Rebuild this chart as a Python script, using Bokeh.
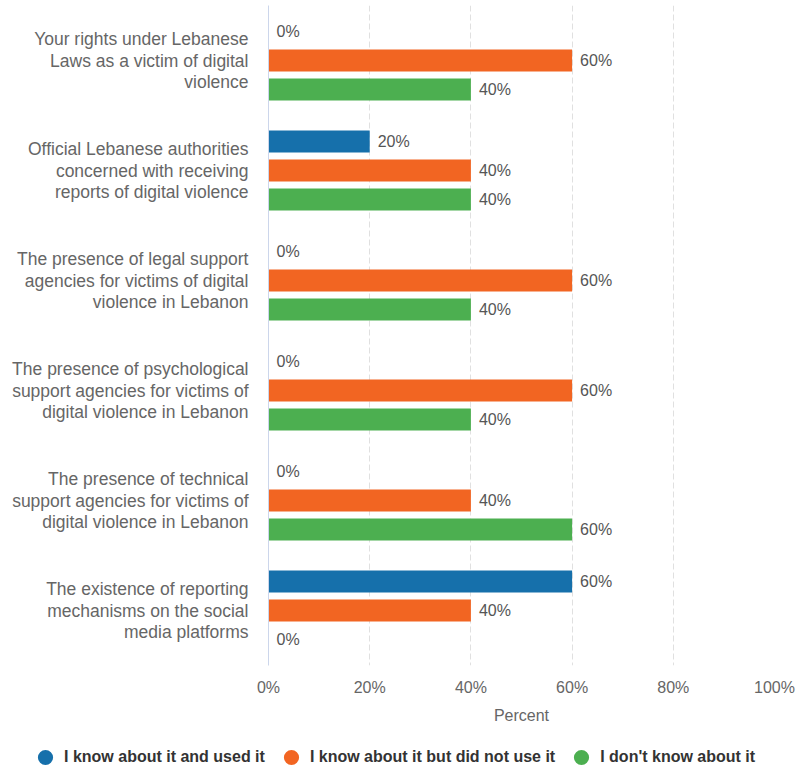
from bokeh.plotting import figure
from bokeh.models import (ColumnDataSource, Range1d, FixedTicker, PrintfTickFormatter,
                          Legend, LegendItem, Plot)
from bokeh.layouts import column
from bokeh.transform import dodge
from bokeh.core.properties import value
from bokeh.embed import file_html
from bokeh.resources import INLINE

categories = [
    "Your rights under Lebanese\nLaws as a victim of digital\nviolence",
    "Official Lebanese authorities\nconcerned with receiving\nreports of digital violence",
    "The presence of legal support\nagencies for victims of digital\nviolence in Lebanon",
    "The presence of psychological\nsupport agencies for victims of\ndigital violence in Lebanon",
    "The presence of technical\nsupport agencies for victims of\ndigital violence in Lebanon",
    "The existence of reporting\nmechanisms on the social\nmedia platforms",
]
series_names = ["I know about it and used it",
                "I know about it but did not use it",
                "I don't know about it"]
used = [0, 20, 0, 0, 0, 60]
not_used = [60, 40, 60, 60, 40, 40]
dont_know = [40, 40, 40, 40, 60, 0]
x_ticks = [0, 20, 40, 60, 80, 100]

colors = ["#1670ab", "#f26522", "#4caf50"]
FONT = "Liberation Sans"

use_strip = "frame_align" in Plot.properties()

W = 799
main_h = 745 if use_strip else 769
p = figure(width=W, height=main_h, output_backend="svg", toolbar_location=None,
           x_range=Range1d(0, 100), y_range=Range1d(5.5, -0.5),
           min_border_left=268, min_border_right=25, min_border_top=5,
           min_border_bottom=main_h - 665)
p.outline_line_color = None

idx = list(range(len(categories)))
offsets = [-0.2636, 0.0, 0.2636]
for vals, off, col in zip([used, not_used, dont_know], offsets, colors):
    src = ColumnDataSource(dict(idx=idx, v=vals, lab=[f"{v}%" for v in vals]))
    p.hbar(y=dodge("idx", off, range=p.y_range), left=0, right="v", height=0.2,
           source=src, fill_color=col, line_color=None)
    p.text(x="v", y=dodge("idx", off, range=p.y_range), text="lab", source=src,
           x_offset=8, text_align="left", text_baseline="middle",
           text_font_size="16px", text_color="#555555", text_font=value(FONT))

# x axis
xa = p.xaxis[0]
xa.ticker = FixedTicker(ticks=x_ticks)
xa.formatter = PrintfTickFormatter(format="%d%%")
xa.axis_line_color = None
xa.major_tick_line_color = None
xa.minor_tick_line_color = None
xa.major_tick_out = 0
xa.major_tick_in = 0
xa.major_label_standoff = 13
xa.major_label_text_font = FONT
xa.major_label_text_font_size = "16px"
xa.major_label_text_color = "#666666"
xa.axis_label = "Percent"
xa.axis_label_text_font = FONT
xa.axis_label_text_font_size = "16px"
xa.axis_label_text_font_style = "normal"
xa.axis_label_text_color = "#666666"
xa.axis_label_standoff = 8

# y axis
ya = p.yaxis[0]
ya.ticker = FixedTicker(ticks=idx)
ya.major_label_overrides = {i: c for i, c in zip(idx, categories)}
ya.axis_line_color = "#ccd6eb"
ya.major_tick_line_color = None
ya.minor_tick_line_color = None
ya.major_tick_out = 0
ya.major_tick_in = 0
ya.major_label_standoff = 20
ya.major_label_text_font = FONT
ya.major_label_text_font_size = "17.5px"
ya.major_label_text_color = "#666666"
ya.major_label_text_line_height = 1.07

# grids
p.ygrid.grid_line_color = None
p.xgrid.ticker = FixedTicker(ticks=x_ticks[1:])
p.xgrid.grid_line_color = "#e0e0e0"
p.xgrid.grid_line_dash = "6 3"

legend_kw = dict(orientation="horizontal", padding=0, margin=0,
                 glyph_width=38, glyph_height=38, label_standoff=0, spacing=7,
                 label_text_font=FONT, label_text_font_size="16px",
                 label_text_font_style="bold", label_text_color="#333333",
                 border_line_color=None, background_fill_alpha=0)

if use_strip:
    lg = figure(width=W, height=24, output_backend="svg", toolbar_location=None,
                x_range=Range1d(0, 1), y_range=Range1d(0, 1),
                x_axis_location=None, y_axis_location=None,
                min_border_left=0, min_border_right=0, min_border_top=0,
                min_border_bottom=0)
    lg.frame_align = False
    lg.outline_line_color = None
    lg.grid.grid_line_color = None
    items = []
    for col, name in zip(colors, series_names):
        r = lg.scatter(x=[-5], y=[-5], marker="circle", fill_color=col, line_color=None)
        items.append(LegendItem(label=name, renderers=[r]))
    legend = Legend(items=items, location=(26, -7), **legend_kw)
    lg.add_layout(legend, "center")
    root = column(p, lg, spacing=0)
else:
    items = []
    for col, name in zip(colors, series_names):
        r = p.scatter(x=[-50], y=[-50], marker="circle", fill_color=col, line_color=None)
        items.append(LegendItem(label=name, renderers=[r]))
    legend = Legend(items=items, location="center", **legend_kw)
    p.add_layout(legend, "below")
    root = p

open("out.html", "w").write(file_html(root, INLINE))
